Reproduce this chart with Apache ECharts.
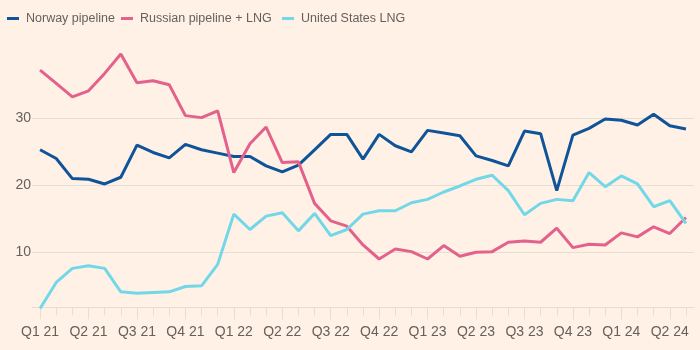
<!DOCTYPE html>
<html>
<head>
<meta charset="utf-8">
<script src="https://cdn.jsdelivr.net/npm/echarts@6/dist/echarts.min.js"></script>
<style>
html,body{margin:0;padding:0;background:#fff1e5;}
#chart{width:700px;height:350px;}
</style>
</head>
<body>
<div id="chart"></div>
<script>
// Monthly, Jan 2021 – May 2024
var months = [];
(function(){
  for (var y = 2021; y <= 2024; y++) {
    for (var m = 1; m <= 12; m++) {
      if (y === 2024 && m > 5) break;
      months.push(y + '-' + (m < 10 ? '0' + m : m));
    }
  }
})();

var quarterLabels = ['Q1 21','Q2 21','Q3 21','Q4 21','Q1 22','Q2 22','Q3 22','Q4 22','Q1 23','Q2 23','Q3 23','Q4 23','Q1 24','Q2 24'];

var norway = [25.3,24.0,21.0,20.9,20.2,21.2,26.0,24.9,24.1,26.1,25.3,24.8,24.3,
  24.3,22.9,22.0,23.0,25.3,27.6,27.6,23.9,27.6,25.9,25.0,28.2,27.8,27.4,
  24.4,23.7,22.9,28.1,27.7,19.2,27.5,28.5,29.9,29.7,29.0,30.6,28.9,28.4];

var russia = [37.2,35.2,33.2,34.1,36.7,39.6,35.3,35.6,35.0,30.4,30.1,31.1,21.9,
  26.2,28.7,23.4,23.5,17.3,14.7,13.9,11.1,9.0,10.5,10.1,9.0,11.0,9.4,
  10.0,10.1,11.5,11.7,11.5,13.6,10.7,11.2,11.1,12.9,12.3,13.8,12.8,15.2];

var usLng = [1.6,5.5,7.6,8.0,7.6,4.1,3.9,4.0,4.1,4.9,5.0,8.2,15.7,
  13.4,15.4,15.9,13.2,15.8,12.5,13.4,15.7,16.2,16.2,17.4,17.9,19.0,19.9,
  20.9,21.5,19.2,15.6,17.3,17.9,17.7,21.9,19.8,21.4,20.2,16.8,17.7,14.3];

var seriesNames = ['Norway pipeline', 'Russian pipeline + LNG', 'United States LNG'];
var colors = ['#0f5499', '#e3628c', '#72d8e8'];
var legendLefts = [7, 121, 282];

var chart = echarts.init(document.getElementById('chart'), null, {renderer: 'canvas'});
var textColor = '#66605c';
var lineCol = '#e8ddd3';

var legends = seriesNames.map(function (n, i) {
  return {
    left: legendLefts[i],
    top: 12,
    padding: 0,
    icon: 'rect',
    itemWidth: 12,
    itemHeight: 3,
    selectedMode: false,
    textStyle: {
      fontFamily: 'Liberation Sans Narrow, Liberation Sans, sans-serif',
      fontSize: 12.5,
      color: textColor,
      padding: [0, 0, 0, 2]
    },
    data: [n]
  };
});

chart.setOption({
  backgroundColor: '#fff1e5',
  animation: false,
  color: colors,
  legend: legends,
  grid: {left: 32, right: 6, top: 51.3, bottom: 30.7, containLabel: false},
  xAxis: [{
    type: 'category',
    data: months,
    boundaryGap: true,
    offset: -12,
    axisLine: {show: true, onZero: false, lineStyle: {color: lineCol, width: 1}},
    axisTick: {show: true, alignWithLabel: true, interval: 0, length: 8, lineStyle: {color: lineCol}},
    axisLabel: {show: false},
    splitLine: {show: false}
  }, {
    type: 'category',
    data: months,
    boundaryGap: true,
    position: 'bottom',
    offset: -12,
    axisLine: {show: false, onZero: false},
    axisTick: {show: true, alignWithLabel: true, interval: 2, length: 12, lineStyle: {color: lineCol}},
    axisLabel: {
      show: true,
      interval: 2,
      margin: 18,
      color: textColor,
      fontFamily: 'Liberation Sans, sans-serif',
      fontSize: 14,
      formatter: function (v, i) { return quarterLabels[Math.round(i / 3)] || ''; }
    },
    splitLine: {show: false}
  }],
  yAxis: {
    type: 'value',
    min: 0,
    max: 40,
    interval: 10,
    axisLine: {show: false},
    axisTick: {show: false},
    axisLabel: {
      margin: 1,
      color: textColor,
      fontFamily: 'Liberation Sans, sans-serif',
      fontSize: 14,
      formatter: function (v) { return (v === 0 || v === 40) ? '' : String(v); }
    },
    splitLine: {
      show: true,
      lineStyle: {color: ['transparent', lineCol, lineCol, lineCol, 'transparent'], width: 1}
    }
  },
  series: [
    {name: seriesNames[0], type: 'line', data: norway, symbol: 'none', lineStyle: {width: 3, color: colors[0]}, itemStyle: {color: colors[0]}},
    {name: seriesNames[1], type: 'line', data: russia, symbol: 'none', lineStyle: {width: 3, color: colors[1]}, itemStyle: {color: colors[1]}},
    {name: seriesNames[2], type: 'line', data: usLng, symbol: 'none', lineStyle: {width: 3, color: colors[2]}, itemStyle: {color: colors[2]}}
  ]
});
</script>
</body>
</html>
